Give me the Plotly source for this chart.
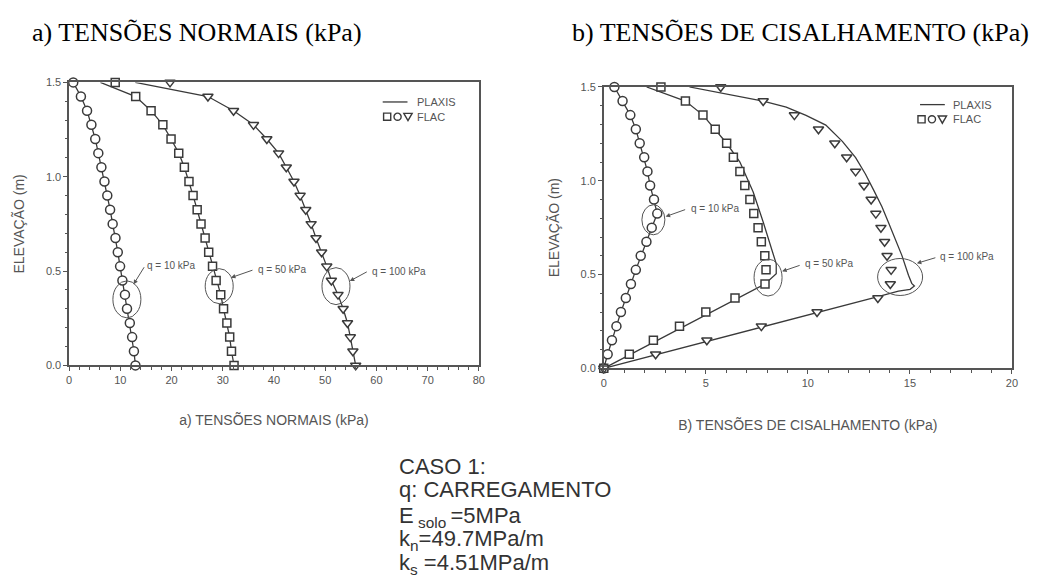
import plotly.graph_objects as go

W, H = 1046, 579

# Elevation grid of the FLAC output points (m)
elev = [1.5, 1.425, 1.35, 1.275, 1.2, 1.125, 1.05, 0.975, 0.9, 0.825, 0.75,
        0.675, 0.6, 0.525, 0.45, 0.375, 0.3, 0.225, 0.15, 0.075, 0.0]

# a) Normal stresses (kPa) - FLAC points
flac_n_q10 = [0.8, 2.3, 3.5, 4.35, 5.1, 5.7, 6.3, 6.9, 7.45, 8.0, 8.5,
              9.05, 9.5, 9.95, 10.4, 10.9, 11.3, 11.85, 12.3, 12.65, 12.95]
flac_n_q50 = [9.0, 13.0, 16.0, 18.3, 19.9, 21.4, 22.5, 23.4, 24.2, 25.0, 25.75,
              26.55, 27.25, 28.0, 28.7, 29.6, 30.15, 30.8, 31.35, 31.7, 32.2]
flac_n_q100 = [19.7, 27.1, 32.1, 36.0, 38.6, 40.9, 42.4, 43.9, 45.1, 46.2, 47.25,
               48.2, 49.3, 50.3, 51.2, 52.5, 53.5, 54.35, 54.9, 55.4, 55.95]

# a) Normal stresses (kPa) - PLAXIS curves
plaxis_n_q10 = [0.8, 2.3, 3.5, 4.35, 5.1, 5.7, 6.3, 6.9, 7.45, 8.0, 8.5,
                9.05, 9.5, 9.95, 10.4, 10.9, 11.3, 11.85, 12.3, 12.65, 12.95]
plaxis_n_q50 = [6.1, 13.0, 16.0, 18.3, 19.9, 21.4, 22.5, 23.4, 24.2, 25.0, 25.75,
                26.55, 27.25, 28.0, 28.7, 29.6, 30.15, 30.8, 31.35, 31.7, 32.2]
plaxis_n_q100 = [12.9, 27.1, 32.1, 36.0, 38.6, 40.9, 42.4, 43.9, 45.1, 46.2, 47.25,
                 48.2, 49.3, 50.3, 51.2, 52.5, 53.5, 54.35, 54.9, 55.4, 55.95]

# b) Shear stresses (kPa) - FLAC points
flac_s_q10 = [0.52, 0.92, 1.30, 1.57, 1.76, 1.98, 2.14, 2.27, 2.46, 2.62, 2.35,
              2.09, 1.81, 1.57, 1.33, 1.08, 0.84, 0.62, 0.40, 0.19, 0.0]
flac_s_q50 = [2.8, 4.0, 4.86, 5.46, 6.02, 6.35, 6.67, 6.91, 7.16, 7.35, 7.56,
              7.72, 7.89, 7.95, 7.9, 6.43, 5.0, 3.71, 2.43, 1.25, 0.0]
flac_s_q100 = [5.73, 7.81, 9.34, 10.52, 11.32, 11.9, 12.34, 12.75, 13.1, 13.33, 13.58,
               13.76, 13.88, 14.08, 14.04, 13.43, 10.45, 7.72, 5.05, 2.54, 0.0]

# b) Shear stresses (kPa) - PLAXIS curves
plaxis_s_q10 = [0.52, 0.92, 1.30, 1.57, 1.76, 1.98, 2.14, 2.27, 2.46, 2.62, 2.35,
                2.09, 1.81, 1.57, 1.33, 1.08, 0.84, 0.62, 0.40, 0.19, 0.0]
plaxis_s_q50 = [2.1, 4.0, 4.86, 5.46, 6.02, 6.67, 7.32, 7.81, 8.21, 8.45, 8.45, 7.9, 0.0]
plaxis_s_q50_elev = [1.5, 1.425, 1.35, 1.275, 1.2, 1.1, 0.94, 0.78, 0.644, 0.557, 0.505, 0.45, 0.0]
plaxis_s_q100 = [4.2, 7.81, 8.94, 9.91, 10.88, 11.69, 12.34, 12.82, 13.23, 13.63, 13.96,
                 14.28, 14.61, 14.93, 15.09, 15.22, 15.01, 14.44, 13.8, 13.3, 0.0]
plaxis_s_q100_elev = [1.5, 1.425, 1.393, 1.349, 1.297, 1.21, 1.123, 1.036, 0.949, 0.862, 0.775,
                      0.688, 0.601, 0.496, 0.453, 0.439, 0.421, 0.412, 0.394, 0.378, 0.0]

load_labels = ["q = 10 kPa", "q = 50 kPa", "q = 100 kPa"]

INK = "#3a3a3a"
GRAY = "#555555"
SANS = "Arial, Liberation Sans, sans-serif"
SERIF = "Times New Roman, Liberation Serif, serif"


def px(x):
    return x / W


def py(y):
    return 1 - y / H


fig = go.Figure()


def add_line(xs, ys, xa, ya):
    fig.add_trace(go.Scatter(x=xs, y=ys, mode="lines", xaxis=xa, yaxis=ya,
                             line=dict(color=INK, width=1.3), cliponaxis=False,
                             showlegend=False, hoverinfo="skip"))


def add_points(xs, ys, symbol, size, xa, ya):
    fig.add_trace(go.Scatter(x=xs, y=ys, mode="markers", xaxis=xa, yaxis=ya,
                             marker=dict(symbol=symbol, size=size, color="white",
                                         line=dict(color=INK, width=1.5)),
                             cliponaxis=False, showlegend=False, hoverinfo="skip"))


# Panel a
add_line(plaxis_n_q10, elev, "x", "y")
add_line(plaxis_n_q50, elev, "x", "y")
add_line(plaxis_n_q100, elev, "x", "y")
add_points(flac_n_q10, elev, "circle", 9, "x", "y")
add_points(flac_n_q50, elev, "square", 8, "x", "y")
add_points(flac_n_q100, elev, "triangle-down", 9, "x", "y")

# Panel b
add_line(plaxis_s_q10, elev, "x2", "y2")
add_line(plaxis_s_q50, plaxis_s_q50_elev, "x2", "y2")
add_line(plaxis_s_q100, plaxis_s_q100_elev, "x2", "y2")
add_points(flac_s_q10, elev, "circle", 9, "x2", "y2")
add_points(flac_s_q50, elev, "square", 8, "x2", "y2")
add_points(flac_s_q100, elev, "triangle-down", 9, "x2", "y2")

axis_common = dict(
    showline=True, mirror=True, linecolor=GRAY, linewidth=1.5,
    ticks="outside", ticklen=4, tickwidth=1.2, tickcolor=GRAY,
    showgrid=False, zeroline=False,
    tickfont=dict(family=SANS, size=11, color=GRAY),
)

fig.update_layout(
    width=W, height=H, autosize=False,
    margin=dict(l=0, r=0, t=0, b=0),
    paper_bgcolor="white", plot_bgcolor="white",
    xaxis=dict(domain=[px(66.7), px(480)], range=[0, 80], dtick=10, anchor="y",
               minor=dict(dtick=2, ticks="outside", ticklen=2.5, tickcolor=GRAY),
               title=dict(text="a) TENSÕES NORMAIS (kPa)", standoff=30,
                          font=dict(family=SANS, size=14, color=GRAY)),
               **axis_common),
    yaxis=dict(domain=[py(367), py(78)], range=[0, 1.5], dtick=0.5, tickformat=".1f",
               anchor="x",
               minor=dict(dtick=0.1, ticks="outside", ticklen=2.5, tickcolor=GRAY),
               title=dict(text="ELEVAÇÃO (m)", standoff=18,
                          font=dict(family=SANS, size=14, color=GRAY)),
               **axis_common),
    xaxis2=dict(domain=[px(606), px(1017.7)], range=[0, 20], dtick=5, anchor="y2",
                minor=dict(dtick=1, ticks="outside", ticklen=2.5, tickcolor=GRAY),
                title=dict(text="B) TENSÕES DE CISALHAMENTO (kPa)", standoff=32,
                           font=dict(family=SANS, size=14, color=GRAY)),
                **axis_common),
    yaxis2=dict(domain=[py(370), py(82.7)], range=[0, 1.5], dtick=0.5, tickformat=".1f",
                anchor="x2",
                minor=dict(dtick=0.1, ticks="outside", ticklen=2.5, tickcolor=GRAY),
                title=dict(text="ELEVAÇÃO (m)", standoff=18,
                           font=dict(family=SANS, size=14, color=GRAY)),
                **axis_common),
)

shapes = []
annotations = []

# Highlight ellipses around each load case: (xref, yref, cx, cy, width_px, height_px)
ellipses = [
    ("x", "y", 11.28, 0.35, 28, 37),
    ("x", "y", 29.3, 0.42, 28, 35),
    ("x", "y", 52.1, 0.42, 28, 37),
    ("x2", "y2", 2.43, 0.792, 23, 30),
    ("x2", "y2", 8.05, 0.484, 28, 37),
    ("x2", "y2", 14.52, 0.487, 45, 37),
]
for xr, yr, cx, cy, w, h in ellipses:
    shapes.append(dict(type="circle", xref=xr, yref=yr, xsizemode="pixel", ysizemode="pixel",
                       xanchor=cx, yanchor=cy, x0=-w / 2, x1=w / 2, y0=-h / 2, y1=h / 2,
                       line=dict(color=GRAY, width=1)))

# Arrows pointing at the ellipses: (xref, yref, head_x, head_y, ax_px, ay_px)
arrows = [
    ("x", "y", 12.58, 0.43, 11.5, -18.5),
    ("x", "y", 31.6, 0.465, 23, -8),
    ("x", "y", 54.8, 0.447, 18.5, -10),
    ("x2", "y2", 3.03, 0.809, 21, -7.5),
    ("x2", "y2", 8.74, 0.517, 19, -6.5),
    ("x2", "y2", 15.34, 0.56, 20, -6),
]
for xr, yr, hx, hy, ax, ay in arrows:
    annotations.append(dict(xref=xr, yref=yr, x=hx, y=hy, ax=ax, ay=ay, text="",
                            showarrow=True, arrowhead=2, arrowsize=0.9, arrowwidth=1,
                            arrowcolor=GRAY, standoff=0, startstandoff=0))

# Load-case labels, left-anchored at the arrow tails
label_pos = [
    ("x", "y", 14.9, 0.532, 0),
    ("x", "y", 36.5, 0.506, 1),
    ("x", "y", 58.7, 0.499, 2),
    ("x2", "y2", 4.18, 0.85, 0),
    ("x2", "y2", 9.77, 0.557, 1),
    ("x2", "y2", 16.4, 0.597, 2),
]
for xr, yr, lx, ly, k in label_pos:
    annotations.append(dict(xref=xr, yref=yr, x=lx, y=ly, text=load_labels[k],
                            showarrow=False, xanchor="left", yanchor="middle",
                            font=dict(family=SANS, size=10, color=GRAY)))


# Legends drawn inside each panel
def legend(x_line0, y_plaxis, y_flac, sym_x, text_x):
    shapes.append(dict(type="line", xref="paper", yref="paper",
                       x0=px(x_line0), x1=px(x_line0 + 25), y0=py(y_plaxis), y1=py(y_plaxis),
                       line=dict(color=INK, width=1.3)))
    s = 3.6
    cx = sym_x[0]
    shapes.append(dict(type="rect", xref="paper", yref="paper",
                       x0=px(cx - s), x1=px(cx + s), y0=py(y_flac + s), y1=py(y_flac - s),
                       line=dict(color=INK, width=1.4)))
    cx = sym_x[1]
    shapes.append(dict(type="circle", xref="paper", yref="paper",
                       x0=px(cx - s), x1=px(cx + s), y0=py(y_flac + s), y1=py(y_flac - s),
                       line=dict(color=INK, width=1.4)))
    cx = sym_x[2]
    path = "M {:.5f},{:.5f} L {:.5f},{:.5f} L {:.5f},{:.5f} Z".format(
        px(cx - 4.2), py(y_flac - 3.4), px(cx + 4.2), py(y_flac - 3.4), px(cx), py(y_flac + 4))
    shapes.append(dict(type="path", xref="paper", yref="paper", path=path,
                       line=dict(color=INK, width=1.4)))
    for txt, yy in (("PLAXIS", y_plaxis), ("FLAC", y_flac)):
        annotations.append(dict(xref="paper", yref="paper", x=px(text_x), y=py(yy), text=txt,
                                showarrow=False, xanchor="left", yanchor="middle",
                                font=dict(family=SANS, size=11, color=GRAY)))


legend(383, 98, 113, (387.5, 398, 408.5), 416)
legend(925, 100.7, 115.7, (926.5, 937, 947.5), 956)

# Panel headings
annotations.append(dict(xref="paper", yref="paper", x=px(27), y=py(27), text="a) TENSÕES NORMAIS (kPa)",
                        showarrow=False, xanchor="left", yanchor="middle",
                        font=dict(family=SERIF, size=26, color="black")))
annotations.append(dict(xref="paper", yref="paper", x=px(572), y=py(27),
                        text="b) TENSÕES DE CISALHAMENTO (kPa)",
                        showarrow=False, xanchor="left", yanchor="middle",
                        font=dict(family=SERIF, size=26, color="black")))

# Case description block
case_lines = [
    "CASO 1:",
    "q: CARREGAMENTO",
    "E<sub> solo </sub>=5MPa",
    "k<sub>n</sub>=49.7MPa/m",
    "k<sub>s</sub> =4.51MPa/m",
]
case_y = [470.4, 494, 522, 545, 569.5]
for txt, yy in zip(case_lines, case_y):
    annotations.append(dict(xref="paper", yref="paper", x=px(397), y=py(yy), text=txt,
                            showarrow=False, xanchor="left", yanchor="middle",
                            font=dict(family=SANS, size=22, color="#333333")))

fig.update_layout(shapes=shapes, annotations=annotations)

fig.write_html("out.html")
